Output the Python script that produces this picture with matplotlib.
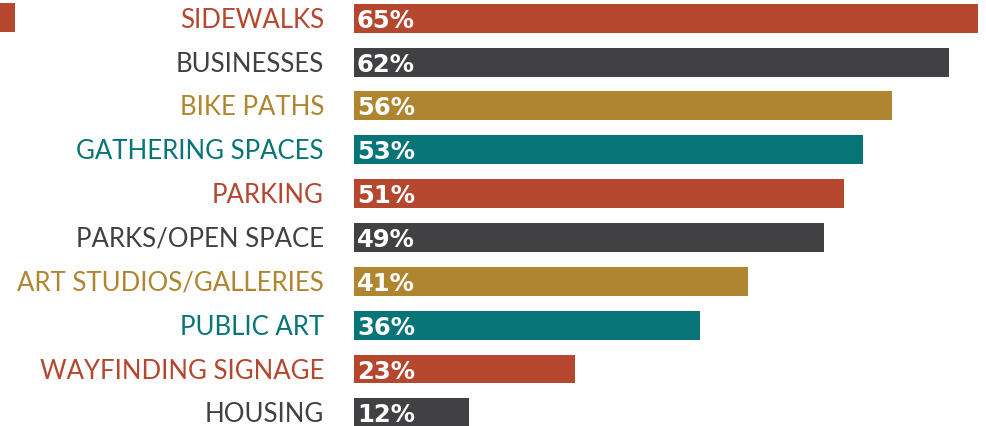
import matplotlib
matplotlib.use("Agg")
import matplotlib.pyplot as plt
from matplotlib.patches import Rectangle

categories = ["SIDEWALKS", "BUSINESSES", "BIKE PATHS", "GATHERING SPACES", "PARKING",
              "PARKS/OPEN SPACE", "ART STUDIOS/GALLERIES", "PUBLIC ART",
              "WAYFINDING SIGNAGE", "HOUSING"]
values = [65, 62, 56, 53, 51, 49, 41, 36, 23, 12]
value_labels = ["65%", "62%", "56%", "53%", "51%", "49%", "41%", "36%", "23%", "12%"]

RED, DARK, GOLD, TEAL = "#B5472E", "#414042", "#B08530", "#077578"
palette = [RED, DARK, GOLD, TEAL]
colors = [palette[i % 4] for i in range(len(categories))]

W, H = 987, 427
fig = plt.figure(figsize=(W / 100, H / 100), dpi=100)
ax = fig.add_axes([354 / W, 0, (978 - 354) / W, 1])
ax.set_xlim(0, 65)
ax.set_ylim(9.30, -0.44)
ax.axis("off")

ys = list(range(len(categories)))
ax.barh(ys, values, height=0.661, color=colors, linewidth=0)

for y, lab, vl, c in zip(ys, categories, value_labels, colors):
    ax.annotate(lab, xy=(0, y), xytext=(-30, -1), textcoords="offset pixels",
                ha="right", va="center", fontsize=18.5, color=c, family="Lato")
    ax.annotate(vl, xy=(0, y), xytext=(3, -1.5), textcoords="offset pixels",
                ha="left", va="center", fontsize=17.5, color="white",
                family="DejaVu Sans", fontweight="heavy")

# small decorative marker at top-left
fig.patches.append(Rectangle((0, 1 - 33 / H), 15 / W, 29 / H, transform=fig.transFigure,
                             facecolor=RED, edgecolor="none"))

fig.savefig("out.png", dpi=100)
